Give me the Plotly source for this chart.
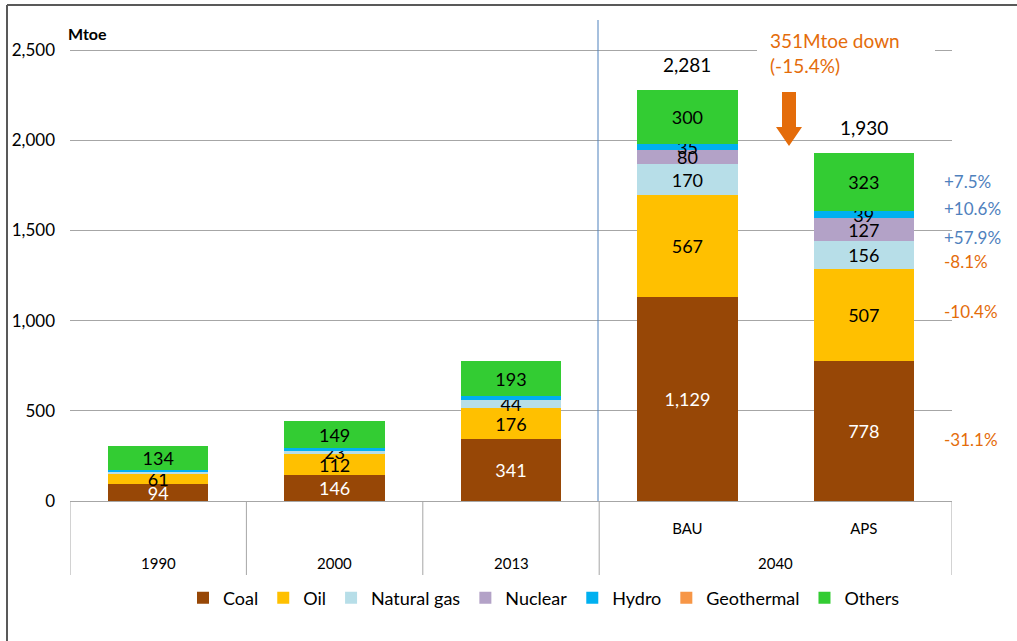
import plotly.graph_objects as go

# ---- data ----
categories = ["1990", "2000", "2013", "BAU", "APS"]
scenario_labels = ["", "", "", "BAU", "APS"]
group_labels = ["1990", "2000", "2013", "2040"]
group_spans = [(0, 0), (1, 1), (2, 2), (3, 4)]
series_names = ["Coal", "Oil", "Natural gas", "Nuclear", "Hydro", "Geothermal", "Others"]
coal = [94, 146, 341, 1129, 778]
oil = [61, 112, 176, 567, 507]
natural_gas = [10, 23, 44, 170, 156]
nuclear = [0, 0, 0, 80, 127]
hydro = [8, 11, 21, 35, 39]
geothermal = [0, 0, 0, 0, 0]
others = [134, 149, 193, 300, 323]
# which segment labels are shown
show_labels = {
    "Coal": [1, 1, 1, 1, 1],
    "Oil": [1, 1, 1, 1, 1],
    "Natural gas": [0, 1, 1, 1, 1],
    "Nuclear": [0, 0, 0, 1, 1],
    "Hydro": [0, 0, 0, 1, 1],
    "Geothermal": [0, 0, 0, 0, 0],
    "Others": [1, 1, 1, 1, 1],
}
change_labels = ["+7.5%", "+10.6%", "+57.9%", "-8.1%", "-10.4%", "-31.1%"]
y_ticks = [0, 500, 1000, 1500, 2000, 2500]
y_max = 2550
reduction_text = "351Mtoe down<br>(-15.4%)"

values = [coal, oil, natural_gas, nuclear, hydro, geothermal, others]
colors = ["#974706", "#FFC000", "#B7DEE8", "#B3A2C7", "#00B0F0", "#F79646", "#33CC33"]
text_colors = ["white", "black", "black", "black", "black", "black", "black"]

totals = [sum(v[i] for v in values) for i in range(len(categories))]

FONT = "Lato"
W, H = 1017, 641
L, R, B = 70, 65, 140
T = 41
pw = W - L - R
ph = H - T - B


def px(xp):
    return (xp - L) / pw


def py(yp):
    return (H - B - yp) / ph


fig = go.Figure()
for name, vals, col, tcol in zip(series_names, values, colors, text_colors):
    txt = [f"{v:,}" if s else "" for v, s in zip(vals, show_labels[name])]
    fig.add_trace(go.Bar(
        name=name, x=categories, y=vals, marker=dict(color=col, line=dict(width=0)),
        text=txt, textposition="inside", insidetextanchor="middle", textangle=0,
        constraintext="none", insidetextfont=dict(size=18, color=tcol, family=FONT),
        hoverinfo="skip",
    ))

for c, t in zip(categories, totals):
    fig.add_annotation(x=c, y=t, text=f"{t:,}", showarrow=False, yshift=25,
                       font=dict(size=19, color="black", family=FONT))

fig.update_layout(
    width=W, height=H, barmode="stack", bargap=0.43,
    margin=dict(l=L, r=R, t=T, b=B, autoexpand=False),
    paper_bgcolor="white", plot_bgcolor="white",
    font=dict(family=FONT, size=15, color="black"),
    legend=dict(orientation="h", x=px(544), xanchor="center", y=py(598), yanchor="middle",
                font=dict(size=18, family=FONT), itemwidth=30, traceorder="normal"),
)
fig.update_yaxes(range=[0, y_max], tickvals=y_ticks, tickformat=",", showgrid=True,
                 gridcolor="#A6A6A6", gridwidth=1, zeroline=False, showline=False,
                 ticklabelstandoff=14, tickfont=dict(size=17, family=FONT), automargin=False)
fig.update_xaxes(type="category", range=[-0.5, 4.5], tickvals=categories, ticktext=scenario_labels,
                 showline=True, linecolor="#A6A6A6", linewidth=1, showgrid=False,
                 tickfont=dict(size=15, family=FONT), ticks="", ticklabelstandoff=14, automargin=False)

# lower category level (years) and dividers
for lab, (a, b) in zip(group_labels, group_spans):
    fig.add_annotation(x=(a + b) / 2, xref="x", yref="paper", y=py(563), text=lab, showarrow=False,
                       yanchor="middle", font=dict(size=15, color="black", family=FONT))
divider_pos = [group_spans[0][0] - 0.5] + [b + 0.5 for a, b in group_spans]
for d in divider_pos:
    fig.add_shape(type="line", xref="x", yref="paper", x0=d, x1=d, y0=0, y1=py(575),
                  line=dict(color="#A6A6A6", width=1))

# white patch behind reduction note breaks the top gridline
fig.add_shape(type="rect", xref="paper", yref="paper", x0=px(757), x1=px(935), y0=py(56), y1=py(44),
              fillcolor="white", line=dict(width=0), layer="above")
fig.add_annotation(xref="paper", yref="paper", x=px(768), y=py(53), xanchor="left", yanchor="middle",
                   text=reduction_text, showarrow=False, align="left",
                   font=dict(size=19, color="#E46C0A", family=FONT))

change_y = [181, 208, 237, 261, 311, 439]
for lab, yy in zip(change_labels, change_y):
    col = "#4F81BD" if lab.startswith("+") else "#E46C0A"
    fig.add_annotation(xref="paper", yref="paper", x=px(942), y=py(yy), xanchor="left", yanchor="middle",
                       text=lab, showarrow=False, font=dict(size=17, color=col, family=FONT))

fig.add_annotation(xref="paper", yref="paper", x=px(66), y=py(33), xanchor="left", yanchor="middle",
                   text="<b>Mtoe</b>", showarrow=False, font=dict(size=16, color="black", family=FONT))

# down arrow
ax = 789
path = (f"M {px(ax-7)},{py(92)} L {px(ax+7)},{py(92)} L {px(ax+7)},{py(127)} L {px(ax+13)},{py(127)} "
        f"L {px(ax)},{py(146)} L {px(ax-13)},{py(127)} L {px(ax-7)},{py(127)} Z")
fig.add_shape(type="path", xref="paper", yref="paper", path=path, fillcolor="#E46C0A", line=dict(width=0))

# vertical separator line
fig.add_shape(type="line", xref="paper", yref="paper", x0=px(598), x1=px(598), y0=0, y1=py(20),
              line=dict(color="#4F81BD", width=1))

# frame (left and top edges)
fig.add_shape(type="line", xref="paper", yref="paper", x0=px(7), x1=px(7), y0=py(5), y1=py(641),
              line=dict(color="#595959", width=2))
fig.add_shape(type="line", xref="paper", yref="paper", x0=px(7), x1=px(1017), y0=py(5), y1=py(5),
              line=dict(color="#595959", width=2))

fig.write_html("out.html", config={"displayModeBar": False},
               post_script="document.body.style.margin='0';")
